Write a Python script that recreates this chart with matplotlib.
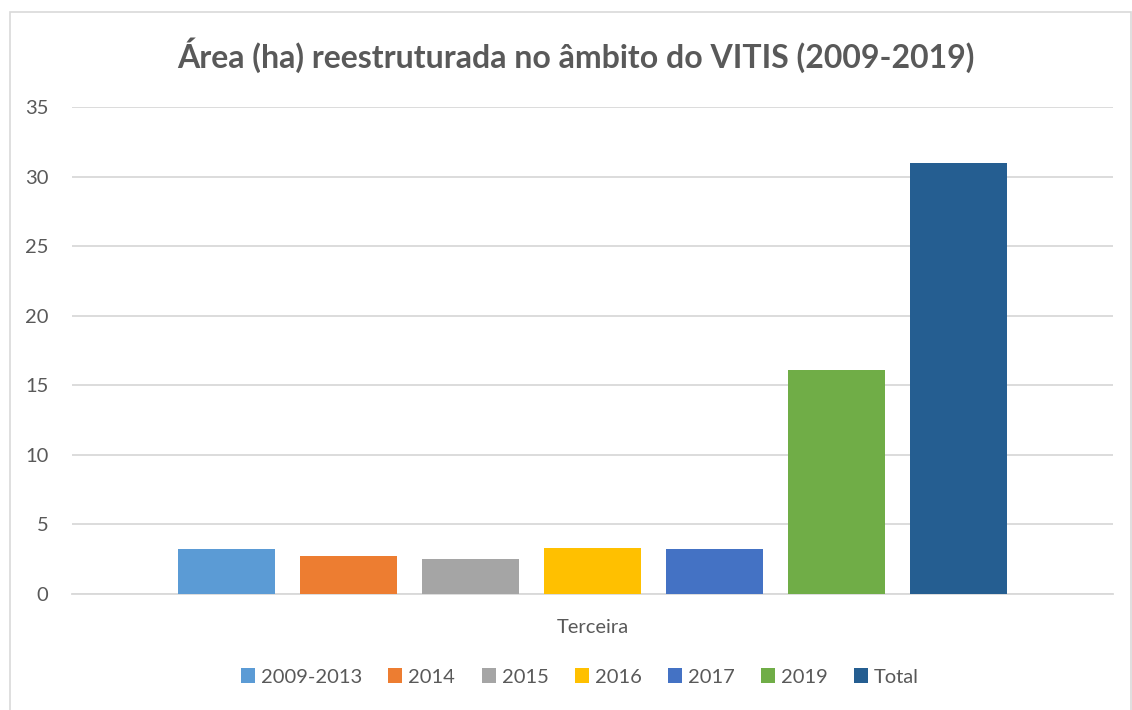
import matplotlib
matplotlib.use("Agg")
import matplotlib.pyplot as plt
from matplotlib.patches import Rectangle

series = ["2009-2013", "2014", "2015", "2016", "2017", "2019", "Total"]
values = [3.2, 2.7, 2.5, 3.3, 3.2, 16.1, 31.0]
colors = ["#5B9BD5", "#ED7D31", "#A5A5A5", "#FFC000", "#4472C4", "#70AD47", "#255E91"]
category = "Terceira"
yticks = [0, 5, 10, 15, 20, 25, 30, 35]

plt.rcParams['font.family'] = ['Lato', 'DejaVu Sans']
txt = "#595959"

fig = plt.figure(figsize=(11.32, 7.10), dpi=100)
fig.patches.append(Rectangle((10/1132, -0.01), 1121/1132, 1 - 12/710 + 0.01,
                             transform=fig.transFigure, fill=False,
                             edgecolor="#d9d9d9", linewidth=1.2))
ax = fig.add_axes([72/1132, 116/710, 1041/1132, 487/710])

step = 122/1041
width = 97/1041
for i, (s, v, c) in enumerate(zip(series, values, colors)):
    ax.bar((i - 3) * step, v, width=width, color=c, label=s, zorder=3)

ax.set_xlim(-0.5, 0.5)
ax.set_ylim(0, 35)
ax.set_yticks(yticks)
ax.set_xticks([0])
ax.set_xticklabels([category])
ax.yaxis.grid(True, color="#d9d9d9", linewidth=1.3, zorder=0)
ax.set_axisbelow(True)
for sp in ["top", "right", "left"]:
    ax.spines[sp].set_visible(False)
ax.spines["bottom"].set_color("#d9d9d9")
ax.spines["bottom"].set_linewidth(1.3)
ax.tick_params(axis="both", length=0, labelsize=14.5, labelcolor=txt)
ax.tick_params(axis="y", pad=17)
ax.tick_params(axis="x", pad=18)

fig.text(576/1132, 1 - 55/710, "Área (ha) reestruturada no âmbito do VITIS (2009-2019)",
         ha="center", va="center", fontsize=23, fontweight="bold", color=txt)

leg = fig.legend(loc="center", bbox_to_anchor=(580/1132, 1 - 677/710), ncol=7,
                 frameon=False, fontsize=14.5, handlelength=0.7, handleheight=0.7,
                 handletextpad=0.3, columnspacing=1.3, labelcolor=txt)

fig.savefig("out.png", dpi=100)
